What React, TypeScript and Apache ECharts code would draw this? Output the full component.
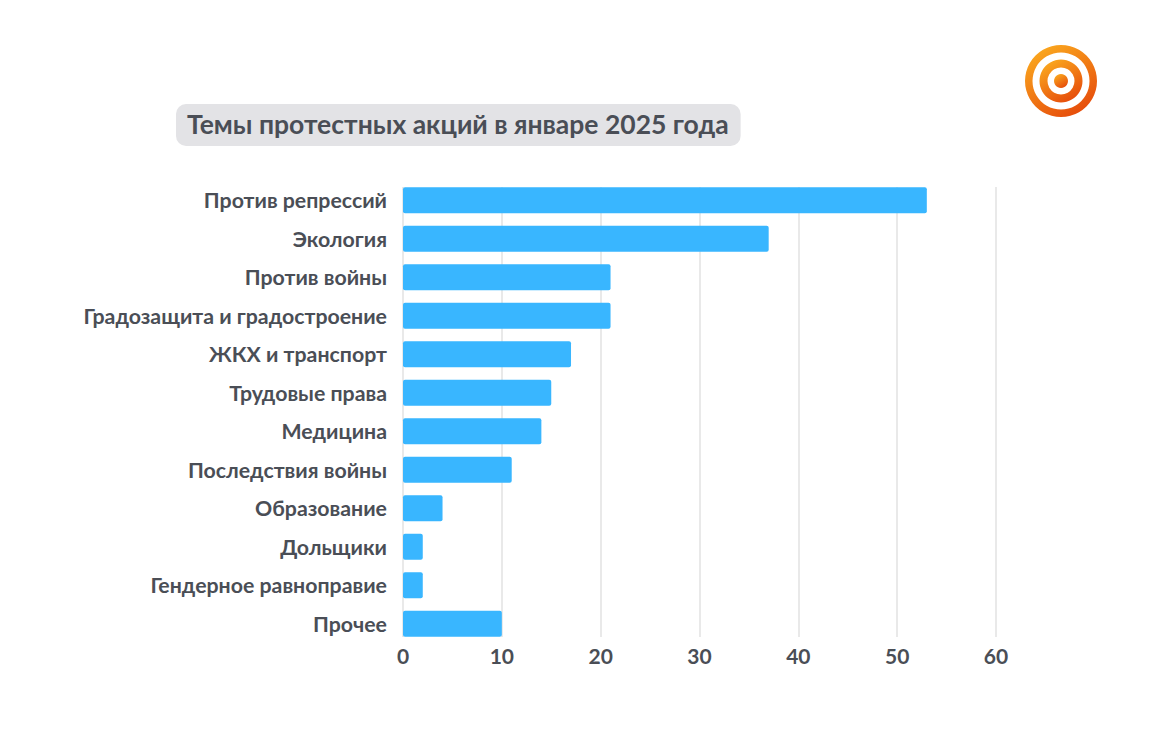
import React, { useEffect, useRef } from "react";
import * as echarts from "echarts";

const categories = [
  "Против репрессий",
  "Экология",
  "Против войны",
  "Градозащита и градостроение",
  "ЖКХ и транспорт",
  "Трудовые права",
  "Медицина",
  "Последствия войны",
  "Образование",
  "Дольщики",
  "Гендерное равноправие",
  "Прочее",
];
const values = [53, 37, 21, 21, 17, 15, 14, 11, 4, 2, 2, 10];
const xTicks = { min: 0, max: 60, interval: 10 };
const titleText = "Темы протестных акций в январе 2025 года";

const TEXT = "#4a4e56";
const FONT = "Lato, 'Noto Sans', sans-serif";

export default function App() {
  const ref = useRef<HTMLDivElement>(null);
  useEffect(() => {
    if (!ref.current) return;
    const chart = echarts.init(ref.current, undefined, { renderer: "svg" });
    const grad = new echarts.graphic.LinearGradient(0.2, 0, 0.8, 1, [
      { offset: 0, color: "#fbab1f" },
      { offset: 1, color: "#e5470a" },
    ]);
    chart.setOption({
      animation: false,
      backgroundColor: "#ffffff",
      title: {
        text: titleText,
        left: 176,
        top: 104,
        padding: [6, 12, 8, 11],
        backgroundColor: "#e3e3e6",
        borderRadius: 10,
        textStyle: {
          fontFamily: FONT,
          fontSize: 26.5,
          fontWeight: "bold",
          color: TEXT,
          lineHeight: 28,
        },
      },
      grid: [
        { left: 403, right: 175, top: 181, bottom: 95, containLabel: false },
        { left: 403, right: 175, top: 187, bottom: 101, containLabel: false },
      ],
      xAxis: [
        {
          type: "value",
          gridIndex: 0,
          ...xTicks,
          axisLine: { show: false },
          axisTick: { show: false },
          splitLine: { show: false },
          axisLabel: { show: false },
        },
        {
          type: "value",
          gridIndex: 1,
          ...xTicks,
          axisLine: { show: false },
          axisTick: { show: false },
          splitLine: { show: true, lineStyle: { color: "#e2e2e2", width: 1.5 } },
          axisLabel: {
            fontFamily: FONT,
            fontSize: 21,
            fontWeight: "bold",
            color: TEXT,
            margin: 8,
          },
        },
      ],
      yAxis: [
        {
          type: "category",
          gridIndex: 0,
          data: categories,
          inverse: true,
          axisLine: { show: false },
          axisTick: { show: false },
          axisLabel: {
            fontFamily: FONT,
            fontSize: 21.3,
            fontWeight: "bold",
            color: TEXT,
            margin: 16,
            padding: [0, 0, 5, 0],
          },
        },
        {
          type: "category",
          gridIndex: 1,
          data: categories,
          inverse: true,
          show: false,
        },
      ],
      series: [
        {
          type: "bar",
          xAxisIndex: 0,
          yAxisIndex: 0,
          data: values,
          barCategoryGap: "32%",
          z: 3,
          itemStyle: { color: "#39b6ff", borderRadius: 2 },
        },
      ],
      graphic: [
        {
          type: "group",
          left: 1025,
          top: 45,
          children: [
            { type: "ring", shape: { cx: 36, cy: 36, r: 36, r0: 28.5 }, style: { fill: grad } },
            { type: "ring", shape: { cx: 36, cy: 36, r: 21.5, r0: 13.5 }, style: { fill: grad } },
            { type: "circle", shape: { cx: 36, cy: 36, r: 7 }, style: { fill: grad } },
          ],
        },
      ],
    });
    return () => chart.dispose();
  }, []);
  return (
    <div
      ref={ref}
      style={{ position: "fixed", left: 0, top: 0, width: 1171, height: 738 }}
    />
  );
}
